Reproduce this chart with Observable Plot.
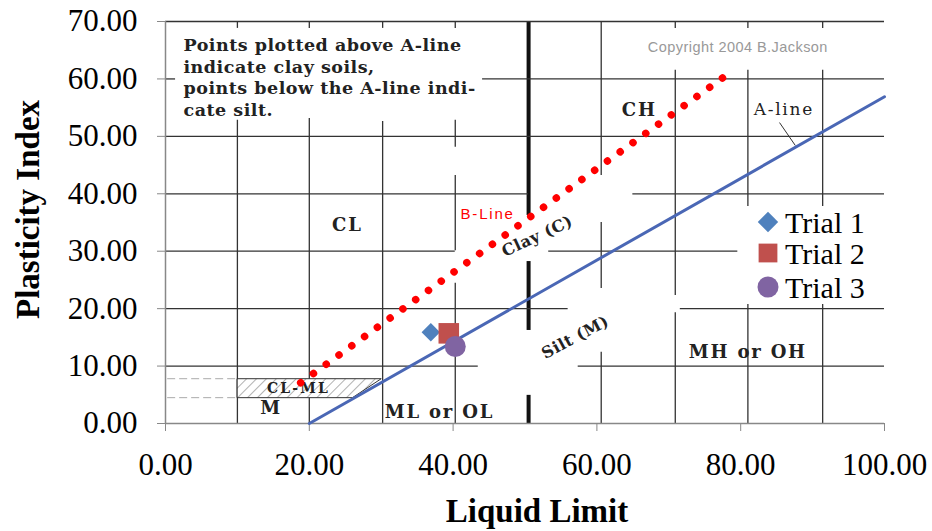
<!DOCTYPE html>
<html><head><meta charset="utf-8">
<script src="https://cdn.jsdelivr.net/npm/d3@7"></script>
<script src="https://cdn.jsdelivr.net/npm/@observablehq/plot@0.6"></script>
<style>
body{margin:0;background:#fff;}
#wrap{position:relative;width:932px;height:531px;}
#legend{position:absolute;left:742px;top:206px;width:142px;height:98px;background:#fff;}
</style></head><body><div id="wrap"></div>
<script>
// ---- data ----
const trialNames = ["Trial 1", "Trial 2", "Trial 3"];
const trialLL = [36.9, 39.4, 40.3];
const trialPI = [15.9, 15.7, 13.4];

const aLineLL = [20, 100];
const aLinePI = [0, 56.9];
const bLineLL = [18.8, 77.5];
const bLinePI = [7.1, 60.2];
const bLineDots = 34;

const xTicks = [0, 20, 40, 60, 80, 100];
const yTicks = [0, 10, 20, 30, 40, 50, 60, 70];

// background chart grid segments: [LL, PI from, PI to]
const gridVertical = [
  [10.0, 70, 68.8], [10.0, 52.8, 0],
  [20.0, 70, 68.8], [20.0, 53.1, 0],
  [30.2, 70, 68.8], [30.2, 52.6, 0],
  [40.3, 70, 68.8], [40.3, 52.8, 48.1], [40.3, 43.2, 30.1], [40.3, 24.4, 0],
  [60.6, 70, 43.2], [60.6, 35.0, 23.5], [60.6, 12.4, 0],
  [70.9, 70, 68.8], [70.9, 61.5, 22.3], [70.9, 19.3, 0],
  [81.0, 70, 68.8], [81.0, 61.5, 0],
  [91.4, 70, 68.8], [91.4, 61.5, 0]
];
const gridThick = [[50.5, 70, 36.2], [50.5, 28.2, 16.2], [50.5, 4.9, 0]];
// [PI, LL from, LL to]
const gridHorizontal = [
  [70, 0, 100], [60, 0, 1.4], [60, 44.1, 100], [50, 0, 100],
  [40, 0, 50.5], [40, 65.0, 100], [30, 0, 40.3], [30, 53.3, 79.6],
  [20, 0, 56.0], [20, 71.6, 100], [10, 0, 43.5], [10, 57.4, 100]
];
const clmlDashed = [[7.8, 0.3, 10], [4.5, 0.3, 10]];
const clmlLL = [10, 30.0, 26.0, 10];
const clmlPI = [7.8, 7.8, 4.5, 4.5];

const noteLines = ["Points plotted above A-line", "indicate clay soils,", "points below the A-line indi-", "cate silt."];
const noteLL = [2.5, 2.5, 2.5, 2.5];
const notePI = [65.8, 62.0, 58.3, 54.5];

const zoneLabels = ["CH", "CL", "MH or OH", "ML or OL", "M"];
const zoneLL = [65.9, 25.3, 81.0, 38.1, 14.7];
const zonePI = [54.5, 34.5, 12.4, 1.9, 2.6];

const slopeLabels = ["Clay (C)", "Silt (M)"];
const slopeLL = [51.7, 57.0];
const slopePI = [32.6, 15.0];
const slopeAngle = [-25, -28];

// ---- build tables ----
const rowsV = gridVertical.map(([LL, a, b]) => ({LL, a, b}));
const rowsT = gridThick.map(([LL, a, b]) => ({LL, a, b}));
const rowsH = gridHorizontal.map(([PI, a, b]) => ({PI, a, b}));
const rowsD = clmlDashed.map(([PI, a, b]) => ({PI, a, b}));
const clml = clmlLL.map((LL, i) => ({LL, PI: clmlPI[i]}));
const aLine = aLineLL.map((LL, i) => ({LL, PI: aLinePI[i]}));
const bLine = [{x1: bLineLL[0], y1: bLinePI[0], x2: bLineLL[1], y2: bLinePI[1]}];
const notes = noteLines.map((t, i) => ({t, LL: noteLL[i], PI: notePI[i]}));
const zones = zoneLabels.map((t, i) => ({t, LL: zoneLL[i], PI: zonePI[i]}));
const slopes = slopeLabels.map((t, i) => ({t, LL: slopeLL[i], PI: slopePI[i], r: slopeAngle[i]}));
const trials = trialNames.map((name, i) => ({name, LL: trialLL[i], PI: trialPI[i]}));

const trialSymbol = ["diamond2", "square", "circle"];
const trialColor = ["#4f81bd", "#c0504d", "#8064a2"];
const trialR = [8.3, 11.6, 10.5];

const serif = "'Liberation Serif','Times New Roman',serif";
const wideSerif = "'DejaVu Serif',serif";
const sans = "'Liberation Sans',Arial,sans-serif";

// font sizes double as selectors for letter-spacing below
const fs = {note: 17.5, copy: 14.5, zone: 18, clml: 14, slope: 16, aline: 17, bline: 15};
const spacing = {note: 0.5, copy: 0.45, zone: 1.8, clml: 2.2, slope: 0.5, aline: 1.7, bline: 1.8};

const plot = Plot.plot({
  width: 932, height: 531,
  marginLeft: 165, marginRight: 48, marginTop: 21, marginBottom: 108,
  x: {domain: [0, 100]},
  y: {domain: [0, 70]},
  style: {fontFamily: serif, background: "white", overflow: "visible"},
  marks: [
    Plot.ruleX(rowsV, {x: "LL", y1: "a", y2: "b", stroke: "#333", strokeWidth: 1.3}),
    Plot.ruleX(rowsT, {x: "LL", y1: "a", y2: "b", stroke: "#111", strokeWidth: 4}),
    Plot.ruleY(rowsH, {y: "PI", x1: "a", x2: "b", stroke: "#333", strokeWidth: 1.3}),
    Plot.ruleY(rowsD, {y: "PI", x1: "a", x2: "b", stroke: "#aaa", strokeWidth: 1, strokeDasharray: "8,4"}),
    Plot.line(clml, {x: "LL", y: "PI", curve: "linear-closed", stroke: "#333", strokeWidth: 1, fill: "url(#hatch)"}),
    Plot.ruleY([0], {stroke: "#888", strokeWidth: 1.5}),
    Plot.ruleX([0], {stroke: "#888", strokeWidth: 1.5}),
    Plot.axisX({ticks: xTicks, tickFormat: d => d.toFixed(2), tickSize: 8, tickPadding: 21, fontSize: 31, stroke: "#888", fill: "#000", fontFamily: serif}),
    Plot.axisY({ticks: yTicks, tickFormat: d => d.toFixed(2), tickSize: 8, tickPadding: 20, fontSize: 31, stroke: "#888", fill: "#000", fontFamily: serif}),
    Plot.text(["Liquid Limit"], {frameAnchor: "bottom", dx: 12, dy: 98, fontSize: 33, fontWeight: "bold", fontFamily: serif, fill: "#000"}),
    Plot.text(["Plasticity Index"], {frameAnchor: "left", textAnchor: "middle", dx: -137, dy: -13, rotate: -90, fontSize: 33, fontWeight: "bold", fontFamily: serif, fill: "#000"}),
    // annotations of the background chart
    Plot.text(notes, {x: "LL", y: "PI", text: "t", textAnchor: "start", fontFamily: wideSerif, fontWeight: "bold", fontSize: fs.note, fill: "#222"}),
    Plot.text(["Copyright 2004 B.Jackson"], {x: 79.6, y: 65.5, fontFamily: sans, fontSize: fs.copy, fill: "#999"}),
    Plot.text(zones, {x: "LL", y: "PI", text: "t", fontFamily: wideSerif, fontWeight: "bold", fontSize: fs.zone, fill: "#222"}),
    Plot.text(["CL-ML"], {x: 18.5, y: 6.1, fontFamily: wideSerif, fontWeight: "bold", fontSize: fs.clml, fill: "#222"}),
    Plot.text(slopes, {x: "LL", y: "PI", text: "t", rotate: "r", fontFamily: wideSerif, fontWeight: "bold", fontSize: fs.slope, fill: "#222"}),
    Plot.text(["A-line"], {x: 86.0, y: 54.7, fontFamily: wideSerif, fontSize: fs.aline, fill: "#222"}),
    Plot.link([0], {x1: 85.4, y1: 52.4, x2: 87.6, y2: 48.4, stroke: "#333", strokeWidth: 1}),
    Plot.text(["B-Line"], {x: 44.8, y: 36.4, fontFamily: sans, fontSize: fs.bline, fill: "#ff0000"}),
    // lines
    Plot.line(aLine, {x: "LL", y: "PI", stroke: "#4a67b5", strokeWidth: 3}),
    Plot.link(bLine, {x1: "x1", y1: "y1", x2: "x2", y2: "y2", stroke: "#ff0000", strokeWidth: 7.5, strokeLinecap: "round"}),
    // trials
    ...trials.map((d, i) => Plot.dot([d], {x: "LL", y: "PI", symbol: trialSymbol[i], r: trialR[i], fill: trialColor[i], stroke: "none"}))
  ]
});

const wrap = document.getElementById("wrap");
wrap.appendChild(plot);

const svg = d3.select(plot);
const defs = svg.insert("defs", ":first-child");
const pat = defs.append("pattern").attr("id", "hatch").attr("patternUnits", "userSpaceOnUse")
  .attr("width", 7).attr("height", 7).attr("patternTransform", "rotate(45)");
pat.append("rect").attr("width", 7).attr("height", 7).attr("fill", "#fff");
pat.append("line").attr("x1", 0).attr("y1", 0).attr("x2", 0).attr("y2", 7).attr("stroke", "#666").attr("stroke-width", 1);

// dotted B-line: red link drawn as round dots
svg.selectAll('g[aria-label="link"]').each(function () {
  const g = d3.select(this);
  const col = (this.getAttribute("stroke") || "").toLowerCase();
  if (col !== "#ff0000" && col !== "red") return;
  g.selectAll("path").each(function () {
    const L = this.getTotalLength();
    const period = (L - 0.3) / (bLineDots - 1);
    this.style.strokeDasharray = `0.01 ${(period - 0.01).toFixed(4)}`;
    this.style.strokeLinecap = "round";
  });
});

// letter-spacing for the wide lettering of the background chart
svg.selectAll('g[aria-label="text"]').each(function () {
  const size = +this.getAttribute("font-size");
  for (const k in fs) if (fs[k] === size) d3.select(this).selectAll("text").style("letter-spacing", spacing[k] + "px");
});

// legend (HTML overlay, as in the original chart)
const legend = d3.select(wrap).append("div").attr("id", "legend");
const ls = legend.append("svg").attr("width", 142).attr("height", 98);
const symMap = {diamond2: d3.symbolDiamond2, square: d3.symbolSquare, circle: d3.symbolCircle};
trialNames.forEach((name, i) => {
  const cy = [16, 47, 81][i];
  ls.append("path").attr("transform", `translate(26,${cy})`)
    .attr("d", d3.symbol(symMap[trialSymbol[i]], Math.PI * [9.2, 10.6, 10.5][i] ** 2)())
    .attr("fill", trialColor[i]);
  ls.append("text").attr("x", 43).attr("y", cy + 11).attr("font-family", serif).attr("font-size", 30).attr("fill", "#000").text(name);
});
</script></body></html>
